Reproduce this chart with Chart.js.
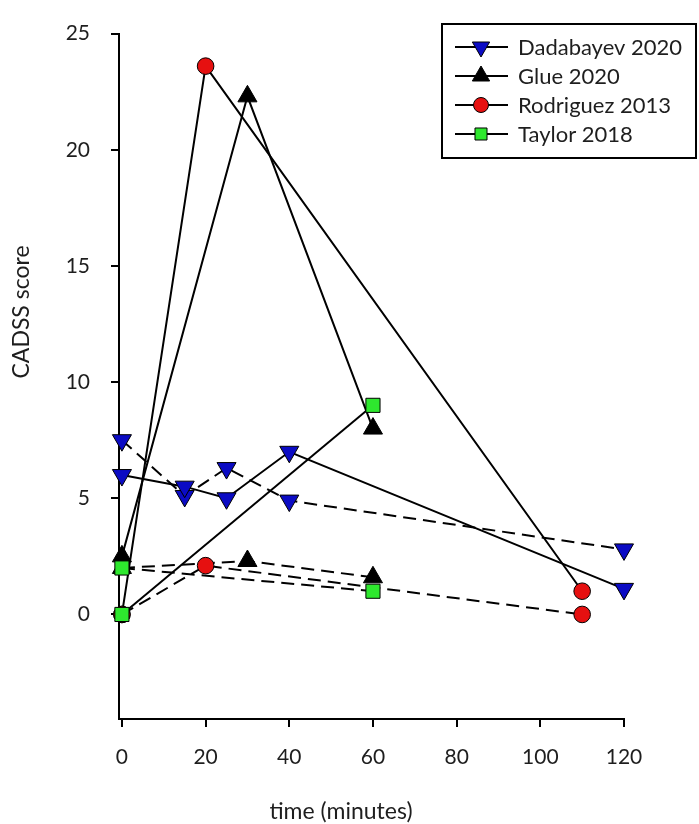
<!DOCTYPE html>
<html>
<head>
<meta charset="UTF-8">
<title>CADSS score</title>
<script src="https://cdn.jsdelivr.net/npm/chart.js@4.4.1/dist/chart.umd.min.js"></script>
<style>
  body { margin: 0; background: #fff; }
</style>
</head>
<body>
<canvas id="myChart" width="699" height="824"></canvas>

<script>
  // values
  const xTicks = [0, 20, 40, 60, 80, 100, 120];
  const yTicks = [0, 5, 10, 15, 20, 25];
  const studies = ['Dadabayev 2020', 'Glue 2020', 'Rodriguez 2013', 'Taylor 2018'];

  const dadaTime = [0, 15, 25, 40, 120];
  const dadaSolid = [6.0, 5.5, 5.0, 7.0, 1.1];
  const dadaDashed = [7.5, 5.1, 6.3, 4.9, 2.8];

  const glueTime = [0, 30, 60];
  const glueSolid = [2.5, 22.3, 8.0];
  const glueDashed = [2.0, 2.3, 1.6];

  const rodTime = [0, 20, 110];
  const rodSolid = [0, 23.6, 1.0];
  const rodDashed = [0, 2.1, 0];

  const taylorTime = [0, 60];
  const taylorSolid = [0, 9.0];
  const taylorDashed = [2.0, 1.0];

  const FONT = 'Lato';
  const TEXT = '#1e1e1e';

  // marker look for each study (order: higher is drawn first)
  const markers = [
    { color: '#0b0bc4', style: 'triangle', rotation: 180, radius: 11, legendRadius: 10, order: 3 },
    { color: '#000000', style: 'triangle', rotation: 0, radius: 11, legendRadius: 10, order: 2 },
    { color: '#e61010', style: 'circle', rotation: 0, radius: 8.3, legendRadius: 7.5, order: 1 },
    { color: '#2ee82e', style: 'rect', rotation: 0, radius: 10, legendRadius: 8.5, order: 0 }
  ];

  function series(idx, times, values, dashed) {
    const m = markers[idx];
    return {
      label: studies[idx] + (dashed ? ' (dashed)' : ''),
      data: times.map((t, i) => ({ x: t, y: values[i] })),
      borderColor: '#000',
      borderWidth: 2,
      borderDash: dashed ? [13, 7] : [],
      pointStyle: m.style,
      rotation: m.rotation,
      pointRadius: m.radius,
      pointBackgroundColor: m.color,
      pointBorderColor: '#000',
      pointBorderWidth: 1,
      order: m.order,
      tension: 0,
      clip: false
    };
  }

  const datasets = [
    series(0, dadaTime, dadaSolid, false),
    series(1, glueTime, glueSolid, false),
    series(2, rodTime, rodSolid, false),
    series(3, taylorTime, taylorSolid, false),
    series(0, dadaTime, dadaDashed, true),
    series(1, glueTime, glueDashed, true),
    series(2, rodTime, rodDashed, true),
    series(3, taylorTime, taylorDashed, true)
  ];

  // boxed legend (line through marker) + axis titles
  const boxLegend = {
    id: 'boxLegend',
    afterDraw(chart) {
      const ctx = chart.ctx;
      ctx.save();
      ctx.strokeStyle = '#000';
      ctx.lineWidth = 2;
      ctx.strokeRect(442, 24, 254, 134);
      ctx.font = '22px ' + FONT;
      ctx.textBaseline = 'middle';
      studies.forEach((name, i) => {
        const y = 47 + i * 29;
        const m = markers[i];
        ctx.strokeStyle = '#000';
        ctx.lineWidth = 2;
        ctx.beginPath();
        ctx.moveTo(455, y);
        ctx.lineTo(508, y);
        ctx.stroke();
        ctx.fillStyle = m.color;
        ctx.strokeStyle = '#000';
        ctx.lineWidth = 1;
        Chart.helpers.drawPoint(ctx, {
          pointStyle: m.style, rotation: m.rotation, radius: m.legendRadius, borderWidth: 1
        }, 481, y);
        ctx.fillStyle = TEXT;
        ctx.fillText(name, 518, y + 1);
      });
      ctx.textAlign = 'center';
      ctx.fillStyle = TEXT;
      ctx.font = '23px ' + FONT;
      ctx.fillText('time (minutes)', 341, 812);
      ctx.translate(22, 312);
      ctx.rotate(-Math.PI / 2);
      ctx.fillText('CADSS score', 0, 0);
      ctx.restore();
    }
  };

  new Chart('myChart', {
    type: 'line',
    data: { datasets: datasets },
    options: {
      responsive: false,
      animation: false,
      layout: { padding: { top: 22, right: 75, left: 0, bottom: 0 } },
      plugins: {
        legend: { display: false },
        tooltip: { enabled: false }
      },
      scales: {
        x: {
          type: 'linear',
          min: -0.7,
          max: 120,
          afterBuildTicks: axis => { axis.ticks = xTicks.map(v => ({ value: v })); },
          afterFit: s => { s.height = 105; },
          grid: { drawOnChartArea: false, color: '#000', lineWidth: 2, tickLength: 8 },
          border: { color: '#000', width: 2 },
          ticks: { padding: 18, color: TEXT, maxRotation: 0, font: { family: FONT, size: 21 } }
        },
        y: {
          min: -4.5,
          max: 25,
          afterBuildTicks: axis => { axis.ticks = yTicks.map(v => ({ value: v })); },
          afterFit: s => { s.width = 119; },
          grid: { drawOnChartArea: false, color: '#000', lineWidth: 2, tickLength: 8 },
          border: { color: '#000', width: 2 },
          ticks: { padding: 21, color: TEXT, font: { family: FONT, size: 21 } }
        }
      }
    },
    plugins: [boxLegend]
  });
</script>
</body>
</html>
